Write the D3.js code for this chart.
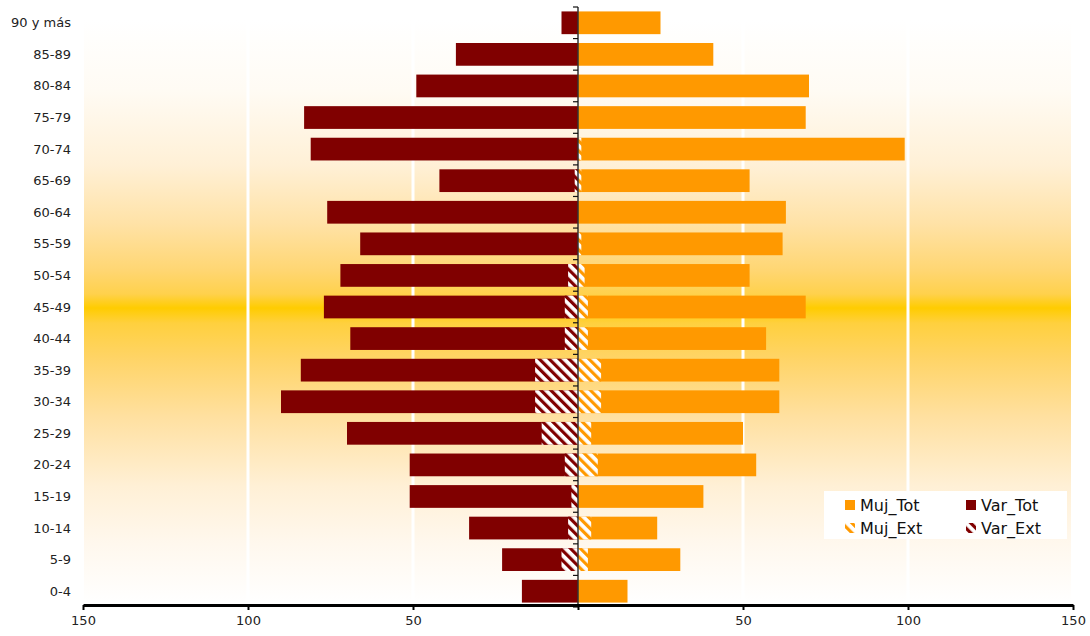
<!DOCTYPE html>
<html>
<head>
<meta charset="utf-8">
<script src="https://cdn.jsdelivr.net/npm/d3@7"></script>
<style>
  html, body { margin: 0; padding: 0; background: #fff; }
  svg { display: block; font-family: "DejaVu Sans", Verdana, sans-serif; }
</style>
</head>
<body>
<svg id="chart" width="1090" height="636"></svg>
<script>
// Age groups, bottom to top
const categories = ["0-4","5-9","10-14","15-19","20-24","25-29","30-34","35-39","40-44","45-49","50-54","55-59","60-64","65-69","70-74","75-79","80-84","85-89","90 y más"];
const varTot = [17, 23, 33, 51, 51, 70, 90, 84, 69, 77, 72, 66, 76, 42, 81, 83, 49, 37, 5];
const mujTot = [15, 31, 24, 38, 54, 50, 61, 61, 57, 69, 52, 62, 63, 52, 99, 69, 70, 41, 25];
const varExt = [0, 5, 3, 2, 4, 11, 13, 13, 4, 4, 3, 0, 0, 1, 0, 0, 0, 0, 0];
const mujExt = [0, 3, 4, 0, 6, 4, 7, 7, 3, 3, 2, 1, 0, 1, 1, 0, 0, 0, 0];
const tickValues = [-150, -100, -50, 0, 50, 100, 150];
const gridValues = [-100, -50, 50, 100];
const seriesNames = ["Muj_Tot", "Var_Tot", "Muj_Ext", "Var_Ext"];

const svg = d3.select("#chart");
const C_MUJ = "#FF9900", C_VAR = "#800000";

const x = d3.scaleLinear().domain([-150, 150]).range([83, 1073]);
const y = d3.scaleBand().domain(categories.slice().reverse()).range([7, 607])
  .paddingInner(0.28).paddingOuter(0.14);
const yFull = d3.scaleBand().domain(categories.slice().reverse()).range([7, 607]);

const defs = svg.append("defs");
const grad = defs.append("linearGradient").attr("id", "bg")
  .attr("x1", 0).attr("y1", 0).attr("x2", 0).attr("y2", 1);
[[0, "#FFFFFF"], [0.12, "#FFFBF4"], [0.25, "#FFF0D6"], [0.35, "#FFE2A6"], [0.43, "#FFD672"],
 [0.47, "#FFD14C"], [0.494, "#FFCC00"], [0.52, "#FFD03E"], [0.58, "#FFD466"],
 [0.68, "#FFE0A0"], [0.8, "#FFF0D6"], [0.9, "#FFF8EE"], [1, "#FFFFFF"]]
  .forEach(([o, c]) => grad.append("stop").attr("offset", o).attr("stop-color", c));

function hatch(id, color) {
  const p = defs.append("pattern").attr("id", id).attr("patternUnits", "userSpaceOnUse")
    .attr("width", 7).attr("height", 7).attr("patternTransform", "rotate(-45)");
  p.append("rect").attr("width", 7).attr("height", 7).attr("fill", "#fff");
  p.append("rect").attr("width", 3.2).attr("height", 7).attr("fill", color);
}
hatch("hMuj", C_MUJ);
hatch("hVar", C_VAR);

// plot background
svg.append("rect").attr("x", 84).attr("y", 20).attr("width", 987).attr("height", 583)
  .attr("fill", "url(#bg)");

// gridlines
svg.append("g").selectAll("line").data(gridValues).join("line")
  .attr("x1", d => x(d)).attr("x2", d => x(d)).attr("y1", 20).attr("y2", 603)
  .attr("stroke", "#fff").attr("stroke-width", 3);

// bars
const rows = categories.map((c, i) => ({c, vt: varTot[i], mt: mujTot[i], ve: varExt[i], me: mujExt[i]}));
const g = svg.append("g");
g.selectAll("rect.vt").data(rows).join("rect").attr("class", "vt")
  .attr("x", d => x(-d.vt)).attr("width", d => x(0) - x(-d.vt))
  .attr("y", d => y(d.c)).attr("height", y.bandwidth()).attr("fill", C_VAR);
g.selectAll("rect.mt").data(rows).join("rect").attr("class", "mt")
  .attr("x", x(0)).attr("width", d => x(d.mt) - x(0))
  .attr("y", d => y(d.c)).attr("height", y.bandwidth()).attr("fill", C_MUJ);
g.selectAll("rect.ve").data(rows.filter(d => d.ve > 0)).join("rect").attr("class", "ve")
  .attr("x", d => x(-d.ve)).attr("width", d => x(0) - x(-d.ve))
  .attr("y", d => y(d.c)).attr("height", y.bandwidth()).attr("fill", "url(#hVar)");
g.selectAll("rect.me").data(rows.filter(d => d.me > 0)).join("rect").attr("class", "me")
  .attr("x", x(0)).attr("width", d => x(d.me) - x(0))
  .attr("y", d => y(d.c)).attr("height", y.bandwidth()).attr("fill", "url(#hMuj)");

// center vertical axis with tick marks on left
const cx = x(0);
svg.append("line").attr("x1", cx).attr("x2", cx).attr("y1", 7).attr("y2", 605)
  .attr("stroke", "#333").attr("stroke-width", 1.5);
const bounds = categories.map(c => yFull(c)).concat([607]);
svg.append("g").selectAll("line").data(bounds).join("line")
  .attr("x1", cx - 5).attr("x2", cx).attr("y1", d => d).attr("y2", d => d)
  .attr("stroke", "#111").attr("stroke-width", 1.2);

// category labels
svg.append("g").selectAll("text").data(categories).join("text")
  .attr("x", 71).attr("y", d => yFull(d) + yFull.bandwidth() / 2)
  .attr("text-anchor", "end").attr("dominant-baseline", "central")
  .attr("font-size", 13).attr("fill", "#222").text(d => d);

// bottom axis
const ax = svg.append("g").attr("transform", "translate(0,605)")
  .call(d3.axisBottom(x).tickValues(tickValues).tickSize(5).tickSizeOuter(0)
    .tickFormat(d => d === 0 ? "" : Math.abs(d)));
ax.select(".domain").attr("stroke", "#000").attr("stroke-width", 3);
ax.selectAll(".tick line").attr("stroke", "#000").attr("stroke-width", 2);
ax.selectAll(".tick text").attr("font-size", 13).attr("fill", "#222")
  .attr("font-family", "DejaVu Sans, Verdana, sans-serif").attr("dy", "0.95em");

// legend
const lg = svg.append("g");
lg.append("rect").attr("x", 824).attr("y", 491).attr("width", 243).attr("height", 48).attr("fill", "#fff");
const fills = {Muj_Tot: C_MUJ, Var_Tot: C_VAR, Muj_Ext: "url(#hMuj)", Var_Ext: "url(#hVar)"};
const lx = [845, 966], ly = [505, 528];
seriesNames.forEach((n, i) => {
  const px = lx[i % 2], py = ly[Math.floor(i / 2)];
  lg.append("rect").attr("x", px).attr("y", py - 5).attr("width", 10).attr("height", 10).attr("fill", fills[n]);
  lg.append("text").attr("x", px + 15).attr("y", py).attr("dominant-baseline", "central")
    .attr("font-size", 16).attr("fill", "#111").text(n);
});
</script>
</body>
</html>
